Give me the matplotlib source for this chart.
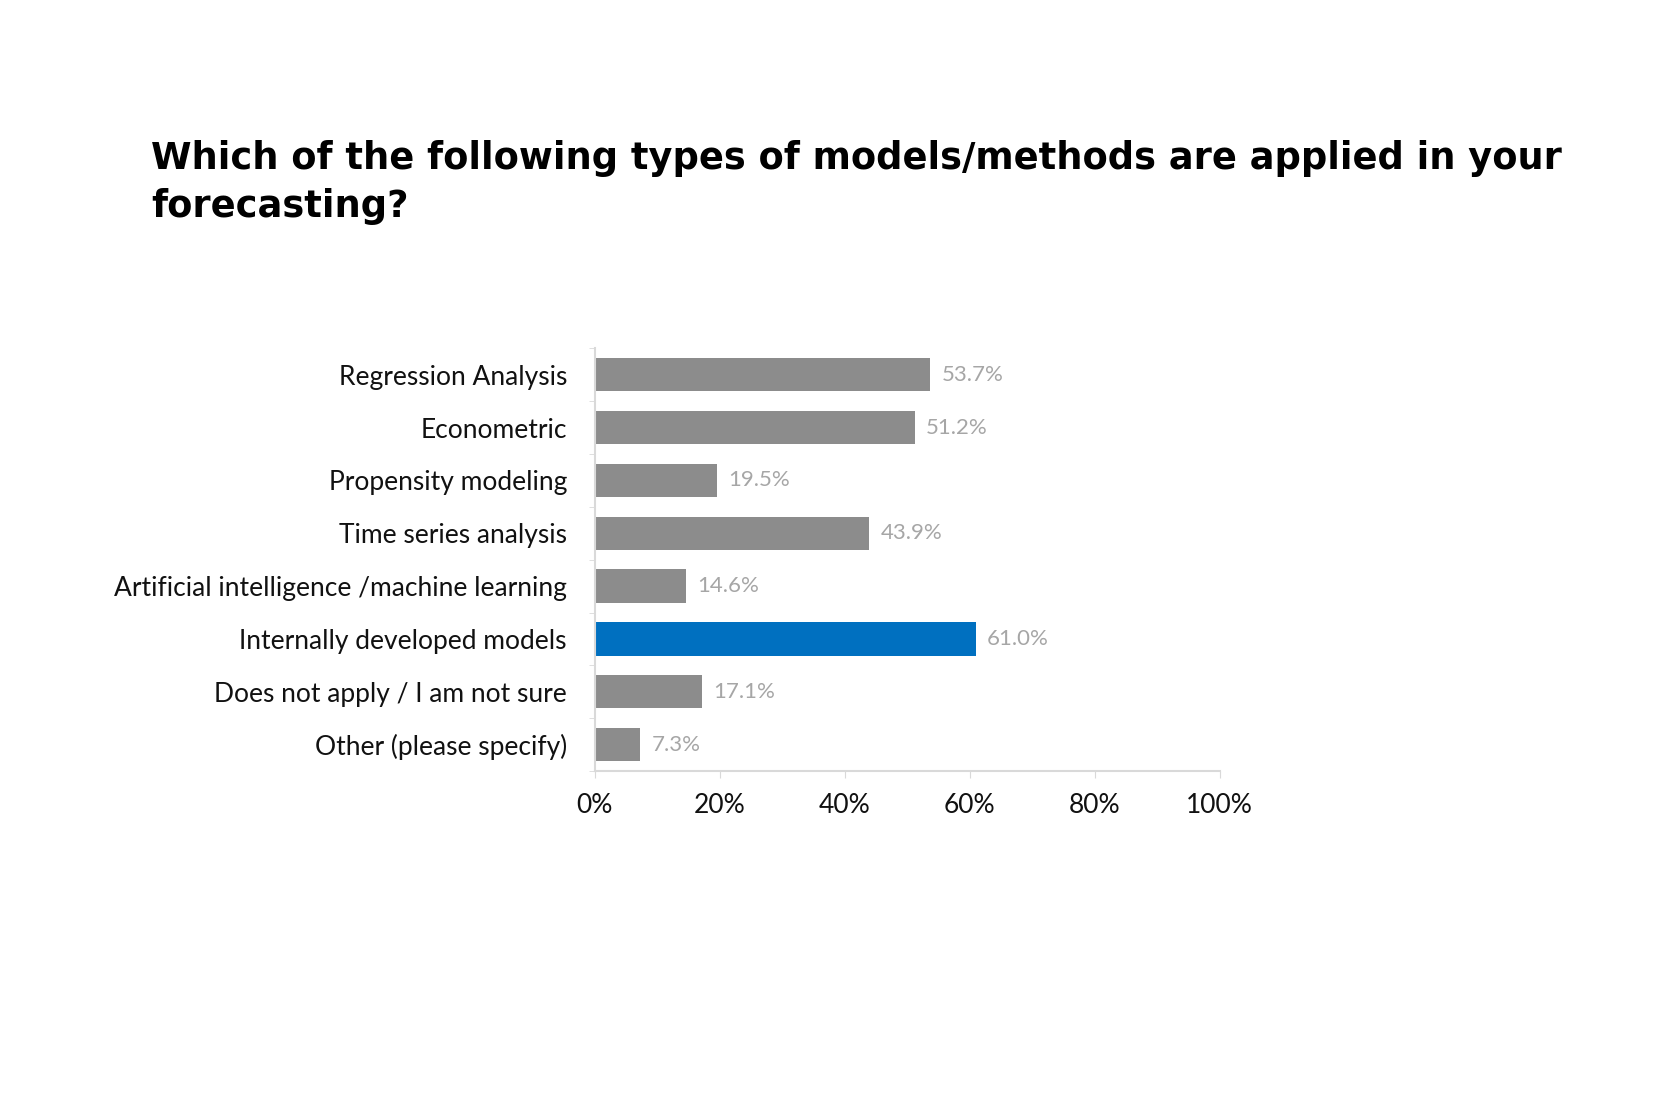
import numpy as np
import matplotlib
matplotlib.use("Agg")
import matplotlib.pyplot as plt

# survey answers, top to bottom
categories = [
    "Regression Analysis",
    "Econometric",
    "Propensity modeling",
    "Time series analysis",
    "Artificial intelligence /machine learning",
    "Internally developed models",
    "Does not apply / I am not sure",
    "Other (please specify)",
]
values = [53.7, 51.2, 19.5, 43.9, 14.6, 61.0, 17.1, 7.3]
highlight = "Internally developed models"
xticks = [0, 20, 40, 60, 80, 100]

title = "Which of the following types of models/methods are applied in your\nforecasting?"

plt.rcParams['font.family'] = ['Lato', 'DejaVu Sans']

fig = plt.figure(figsize=(16.8, 11.2), dpi=100)
ax = fig.add_axes([0.354, 0.3116, 0.372, 0.3774])

y = np.arange(len(categories))
colors = ['#0070c0' if c == highlight else '#8c8c8c' for c in categories]
bars = ax.barh(y, values, height=0.63, color=colors, edgecolor='none')

for b, v in zip(bars, values):
    ax.text(v + 1.8, b.get_y() + b.get_height() / 2, "%.1f%%" % v,
            va='center', ha='left', fontsize=16, color='#a6a6a6')

ax.set_ylim(len(categories) - 0.5, -0.5)
ax.set_xlim(0, 100)
ax.set_yticks(y)
ax.set_yticklabels(categories, fontsize=19, color='#111111')
ax.set_yticks(np.arange(len(categories) + 1) - 0.5, minor=True)
ax.tick_params(axis='y', which='major', length=0, pad=20)
ax.tick_params(axis='y', which='minor', length=4, color='#d9d9d9', direction='out')
ax.set_xticks(xticks)
ax.set_xticklabels(["%d%%" % t for t in xticks], fontsize=19, color='#111111')
ax.tick_params(axis='x', length=5, color='#d9d9d9', pad=11)

for s in ['top', 'right']:
    ax.spines[s].set_visible(False)
for s in ['left', 'bottom']:
    ax.spines[s].set_color('#d9d9d9')
    ax.spines[s].set_linewidth(1.5)

fig.text(0.09, 0.875, title, fontsize=26.5, fontweight='bold', color='#000000',
         va='top', ha='left', linespacing=1.38, family=['DejaVu Sans'])

fig.savefig("out.png", dpi=100, facecolor='white')
